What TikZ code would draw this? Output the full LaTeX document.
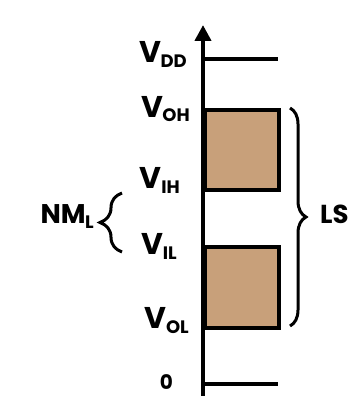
\documentclass[tikz,border=0pt]{standalone}
\usepackage{fontspec}
\setmainfont{Poppins}
\usetikzlibrary{arrows.meta,decorations.pathreplacing}
\definecolor{tan}{HTML}{C8A07A}
\newcommand{\vlab}[2]{{\fontsize{30}{32}\selectfont #1}\kern-0.5pt\raisebox{-5pt}{\fontsize{18}{19}\selectfont #2}}
\tikzset{
  lab/.style={font=\bfseries, inner sep=0pt, anchor=base east},
  thick line/.style={line width=3.5pt},
  level box/.style={line width=4pt, fill=tan, draw=black},
  brace line/.style={line width=3pt, decorate, decoration={brace, amplitude=#1}}
}
\begin{document}
\begin{tikzpicture}[x=1pt,y=-1pt]
\useasboundingbox (0,0) rectangle (354,396);
% boxes
\node[level box, minimum width=74pt, minimum height=80pt, inner sep=0pt, anchor=north west] (hi) at (203,108) {};
\node[level box, minimum width=74pt, minimum height=81pt, inner sep=0pt, anchor=north west] (lo) at (203,245) {};
% axis
\coordinate (axb) at (203,398);
\coordinate (axt) at (203,25);
\draw[line width=4pt, -{Triangle[width=16pt,length=16pt]}] (axb) -- (axt);
% levels
\coordinate (vdd0) at (203,59);
\coordinate (vdd1) at (278,59);
\draw[thick line] (vdd0) -- (vdd1);
\coordinate (z0) at (203,384);
\coordinate (z1) at (278,384);
\draw[thick line] (z0) -- (z1);
% labels
\node[lab] (lvdd) at (187,63) {\vlab{V}{DD}};
\node[lab] (lvoh) at (190,117) {\vlab{V}{OH}};
\node[lab] (lvih) at (180,188) {\vlab{V}{IH}};
\node[lab] (lvil) at (177,254) {\vlab{V}{IL}};
\node[lab] (lvol) at (189,328) {\vlab{V}{OL}};
\node[lab, font=\bfseries\fontsize{20}{22}\selectfont] (lzero) at (173,389) {0};
% braces
\coordinate (rb0) at (290,108);
\coordinate (rb1) at (290,326);
\draw[brace line=16pt] (rb0) -- (rb1);
\node[font=\bfseries\fontsize{26}{28}\selectfont, inner sep=0pt, anchor=west] (ls) at (320,214) {LS};
\coordinate (lb0) at (122,252);
\coordinate (lb1) at (122,193);
\draw[brace line=22pt] (lb0) -- (lb1);
\node[lab] (nml) at (94,223) {{\fontsize{27}{28}\selectfont NM}\kern-0.5pt\raisebox{-5pt}{\fontsize{18}{19}\selectfont L}};
\end{tikzpicture}
\end{document}
